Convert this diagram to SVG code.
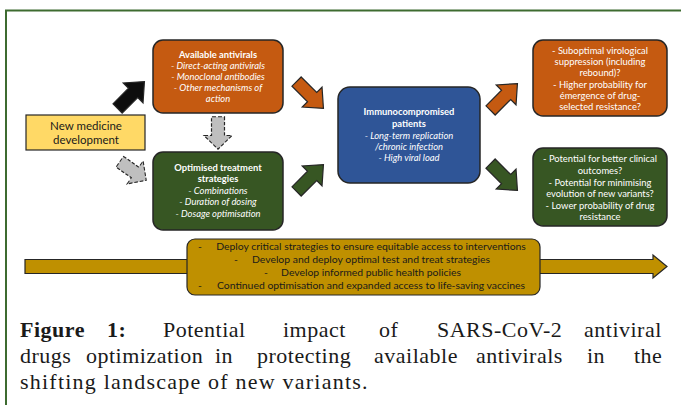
<svg xmlns="http://www.w3.org/2000/svg" width="681" height="405" viewBox="0 0 681 405">
<style>
.box{stroke:#262626;stroke-width:1.5}
.wt{font-family:Lato,"Open Sans",sans-serif;fill:#fff;font-size:9.4px;text-anchor:middle}
.b{font-weight:bold}
.i{font-style:italic}
.gt{font-family:Lato,"Open Sans",sans-serif;fill:#1a1a1a;font-size:10.4px}
.cap{font-family:"Liberation Serif",serif;font-size:22px;fill:#1a1a1a;letter-spacing:0.5px}
.arr{stroke:#262626;stroke-width:1.2}
.dash{fill:#bfbfbf;stroke:#262626;stroke-width:1.2;stroke-dasharray:4 2}
</style>
<defs>
<path id="ba" d="M-19,-6.5 L3,-6.5 L3,-14 L19,0 L3,14 L3,6.5 L-19,6.5 Z"/>
</defs>
<rect width="681" height="405" fill="#fff"/>
<g id="frame" stroke="#3d6b30" stroke-width="2">
<line x1="5" y1="10.5" x2="681" y2="10.5"/>
<line x1="6" y1="10" x2="6" y2="405"/>
</g>
<g id="connectors">
<use href="#ba" fill="#0d0d0d" class="arr" transform="translate(131,95) rotate(-45)"/>
<use href="#ba" class="dash" transform="translate(218,133) rotate(90) scale(0.85,1)"/>
<use href="#ba" class="dash" transform="translate(133,171) rotate(35) scale(0.85,1)"/>
<use href="#ba" fill="#c55a11" class="arr" transform="translate(310,95) rotate(45)"/>
<use href="#ba" fill="#375623" class="arr" transform="translate(310,178) rotate(-45)"/>
<use href="#ba" fill="#c55a11" class="arr" transform="translate(504,97) rotate(-45)"/>
<use href="#ba" fill="#375623" class="arr" transform="translate(504,177) rotate(45)"/>
</g>
<g id="available">
<rect class="box" x="153" y="40" width="130" height="73" rx="10" fill="#c55a11"/>
<text class="wt b" x="218" y="58">Available antivirals</text>
<text class="wt i" x="218" y="69">- Direct-acting antivirals</text>
<text class="wt i" x="218" y="80">-  Monoclonal antibodies</text>
<text class="wt i" x="218" y="91">-  Other mechanisms of</text>
<text class="wt i" x="218" y="102">action</text>
</g>
<g id="newmed">
<rect x="26" y="115" width="119" height="35" fill="#ffd966" stroke="#262626" stroke-width="1.2"/>
<text x="86" y="130" font-family="Lato,'Open Sans',sans-serif" font-size="11.5" fill="#1a1a1a" text-anchor="middle">New medicine</text>
<text x="86" y="144" font-family="Lato,'Open Sans',sans-serif" font-size="11.5" fill="#1a1a1a" text-anchor="middle">development</text>
</g>
<g id="optimised">
<rect class="box" x="153" y="152" width="130" height="78" rx="10" fill="#375623"/>
<text class="wt b" x="218" y="171">Optimised treatment</text>
<text class="wt b" x="218" y="182">strategies</text>
<text class="wt i" x="218" y="194">- Combinations</text>
<text class="wt i" x="218" y="205">-  Duration of dosing</text>
<text class="wt i" x="218" y="217">-  Dosage optimisation</text>
</g>
<g id="immuno">
<rect class="box" x="338" y="87" width="142" height="96" rx="12" fill="#2f5597"/>
<text class="wt b" x="409" y="115">Immunocompromised</text>
<text class="wt b" x="409" y="127">patients</text>
<text class="wt i" x="409" y="139">- Long-term replication</text>
<text class="wt i" x="409" y="150">/chronic infection</text>
<text class="wt i" x="409" y="161">- High viral load</text>
</g>
<g id="suboptimal">
<rect class="box" x="533" y="40" width="134" height="76" rx="10" fill="#c55a11"/>
<text class="wt" x="600" y="54">- Suboptimal virological</text>
<text class="wt" x="600" y="65">suppression (including</text>
<text class="wt" x="600" y="76">rebound)?</text>
<text class="wt" x="600" y="88">- Higher probability for</text>
<text class="wt" x="600" y="99">émergence of drug-</text>
<text class="wt" x="600" y="110">selected resistance?</text>
</g>
<g id="potential">
<rect class="box" x="533" y="148" width="134" height="78" rx="10" fill="#375623"/>
<text class="wt" x="600" y="162">- Potential for better clinical</text>
<text class="wt" x="600" y="174">outcomes?</text>
<text class="wt" x="600" y="186">- Potential for minimising</text>
<text class="wt" x="600" y="197">evolution of new variants?</text>
<text class="wt" x="600" y="209">- Lower probability of drug</text>
<text class="wt" x="600" y="220">resistance</text>
</g>
<g id="policy">
<path d="M25,259.5 H653 V255 L667,266.5 L653,278 V273.5 H25 Z" fill="#bf9000" stroke="#262626" stroke-width="1.2"/>
<rect x="187" y="239" width="353" height="56" rx="8" fill="#bf9000" stroke="#262626" stroke-width="1.2"/>
<text class="gt" x="198" y="250">-</text>
<text class="gt" x="371" y="250" text-anchor="middle">Deploy critical strategies to ensure equitable access to interventions</text>
<text class="gt" x="234" y="263">-</text>
<text class="gt" x="371" y="263" text-anchor="middle">Develop and deploy optimal test and treat strategies</text>
<text class="gt" x="264" y="276">-</text>
<text class="gt" x="371" y="276" text-anchor="middle">Develop informed public health policies</text>
<text class="gt" x="198" y="289">-</text>
<text class="gt" x="371" y="289" text-anchor="middle">Continued optimisation and expanded access to life-saving vaccines</text>
</g>
<g id="caption" class="cap">
<text y="337"><tspan x="20" font-weight="bold">Figure</tspan><tspan x="107" font-weight="bold">1:</tspan><tspan x="163">Potential</tspan><tspan x="283">impact</tspan><tspan x="379">of</tspan><tspan x="437">SARS-CoV-2</tspan><tspan x="584">antiviral</tspan></text>
<text y="363"><tspan x="20">drugs</tspan><tspan x="86">optimization</tspan><tspan x="215">in</tspan><tspan x="257">protecting</tspan><tspan x="374">available</tspan><tspan x="476">antivirals</tspan><tspan x="587">in</tspan><tspan x="634">the</tspan></text>
<text x="20" y="389" textLength="348" lengthAdjust="spacing">shifting landscape of new variants.</text>
</g>
</svg>
